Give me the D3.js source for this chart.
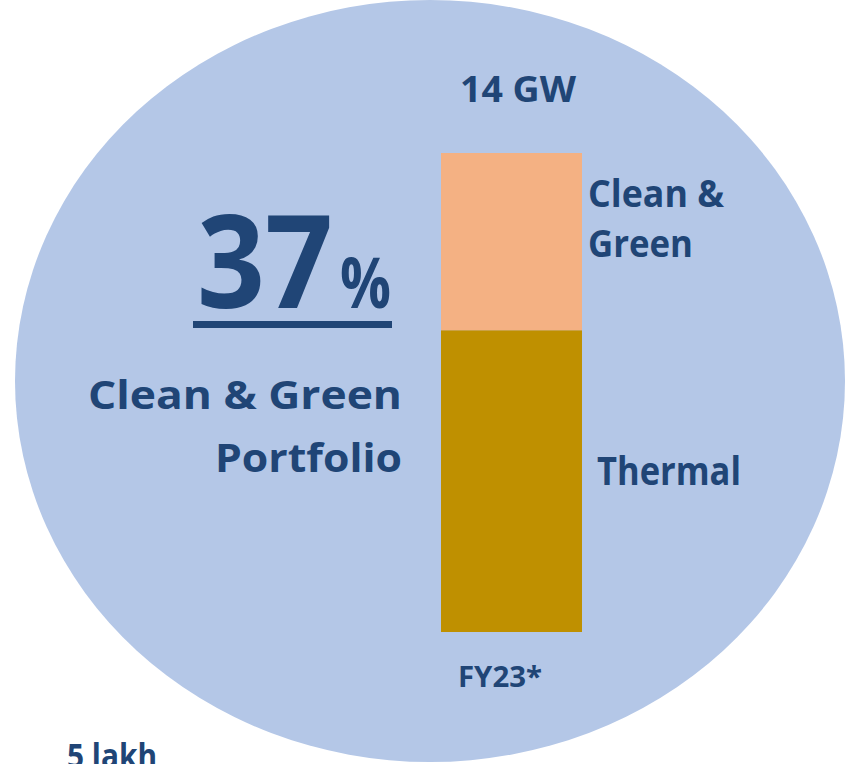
<!DOCTYPE html>
<meta charset="utf-8">
<style>
body { margin: 0; background: #fff; }
svg { display: block; }
text { font-family: "Open Sans", "Noto Sans", sans-serif; font-weight: 700; fill: #204576; }
</style>
<body>
<script src="https://cdn.jsdelivr.net/npm/d3@7"></script>
<script>

// data
var years = ["FY23*"];
var sources = ["Thermal", "Clean & Green"];
var shares = [{year: "FY23*", "Thermal": 63, "Clean & Green": 37}];
var totalLabel = "14 GW";
var headline = 37;
var headlineText = ["Clean & Green", "Portfolio"];
var footLabel = "5 lakh";

var width = 846, height = 764;

var colors = d3.scaleOrdinal()
    .domain(sources)
    .range(["#BF9000", "#F4B183"]);

var svg = d3.select("body").append("svg")
    .attr("width", width)
    .attr("height", height);

// background bubble
svg.append("ellipse")
    .attr("cx", 430).attr("cy", 381)
    .attr("rx", 415).attr("ry", 381)
    .attr("fill", "#B4C7E7");

var x = d3.scaleBand()
    .domain(years)
    .range([441, 582])
    .padding(0);

var y = d3.scaleLinear()
    .domain([0, 100])
    .range([632, 153]);

var stack = d3.stack().keys(sources)(shares);

svg.selectAll("rect.seg")
  .data(stack)
  .enter().append("rect")
    .attr("class", "seg")
    .attr("x", d => x(d[0].data.year))
    .attr("width", x.bandwidth())
    .attr("y", d => y(d[0][1]))
    .attr("height", d => y(d[0][0]) - y(d[0][1]))
    .attr("fill", d => colors(d.key));

// total on top, year below
svg.append("text")
    .attr("x", x(years[0]) + 19).attr("y", 102)
    .attr("font-size", 35)
    .attr("textLength", 116).attr("lengthAdjust", "spacingAndGlyphs")
    .text(totalLabel);

svg.append("text")
    .attr("x", x(years[0]) + 17).attr("y", 687)
    .attr("font-size", 28)
    .attr("textLength", 84).attr("lengthAdjust", "spacingAndGlyphs")
    .text(years[0]);

// segment labels to the right of the bar
var clean = stack[1][0], thermal = stack[0][0];
var cleanMid = (y(clean[0]) + y(clean[1])) / 2;
var thermalMid = (y(thermal[0]) + y(thermal[1])) / 2;

[["Clean &", 136], ["Green", 105]].forEach(function(l, i) {
  svg.append("text")
      .attr("x", x(years[0]) + x.bandwidth() + 6)
      .attr("y", cleanMid - 35 + i * 50)
      .attr("font-size", 38)
      .attr("textLength", l[1]).attr("lengthAdjust", "spacingAndGlyphs")
      .text(l[0]);
});

svg.append("text")
    .attr("x", x(years[0]) + x.bandwidth() + 15)
    .attr("y", thermalMid + 3.5)
    .attr("font-size", 39)
    .attr("textLength", 144).attr("lengthAdjust", "spacingAndGlyphs")
    .text("Thermal");

// big headline
svg.append("text")
    .attr("x", 197).attr("y", 308)
    .attr("font-size", 130)
    .attr("textLength", 136).attr("lengthAdjust", "spacingAndGlyphs")
    .text(headline);

svg.append("text")
    .attr("x", 340).attr("y", 308)
    .attr("font-size", 70)
    .attr("textLength", 51).attr("lengthAdjust", "spacingAndGlyphs")
    .text("%");

svg.append("rect")
    .attr("x", 193).attr("y", 321)
    .attr("width", 199).attr("height", 7)
    .attr("fill", "#204576");

[[headlineText[0], 314, 409], [headlineText[1], 187, 472]].forEach(function(l) {
  svg.append("text")
      .attr("x", 402).attr("y", l[2])
      .attr("text-anchor", "end")
      .attr("font-size", 40)
      .attr("textLength", l[1]).attr("lengthAdjust", "spacingAndGlyphs")
      .text(l[0]);
});

svg.append("text")
    .attr("x", 67).attr("y", 768)
    .attr("font-size", 34)
    .attr("textLength", 90).attr("lengthAdjust", "spacingAndGlyphs")
    .text(footLabel);

</script>
